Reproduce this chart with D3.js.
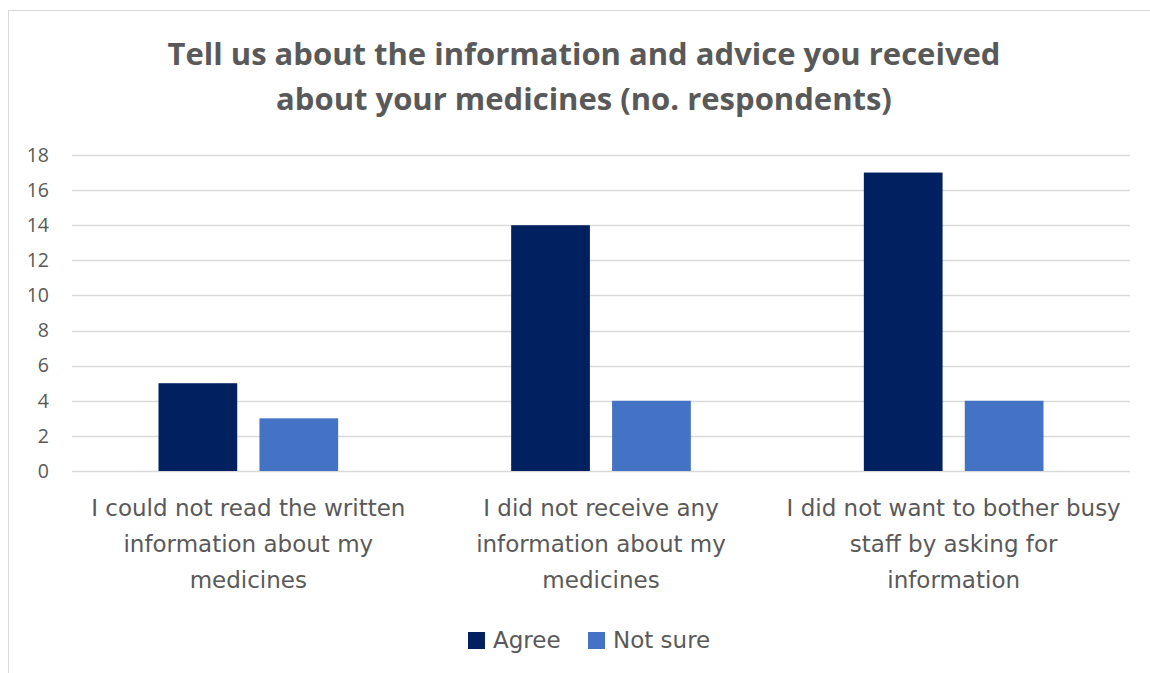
<!DOCTYPE html>
<html>
<head>
<meta charset="utf-8">
<script src="https://cdn.jsdelivr.net/npm/d3@7"></script>
<style>
  html, body { margin: 0; padding: 0; background: #fff; }
  svg { display: block; }
</style>
</head>
<body>
<svg id="chart" width="1150" height="673"></svg>
<script>
// Survey responses per statement
const categories = [
  ["I could not read the written", "information about my", "medicines"],
  ["I did not receive any", "information about my", "medicines"],
  ["I did not want to bother busy", "staff by asking for", "information"]
];
const seriesNames = ["Agree", "Not sure"];
const agreeValues = [5, 14, 17];
const notSureValues = [3, 4, 4];
const yTicks = [0, 2, 4, 6, 8, 10, 12, 14, 16, 18];
const titleLines = [
  "Tell us about the information and advice you received",
  "about your medicines (no. respondents)"
];
const colors = ["#002060", "#4472C4"];

const svg = d3.select("#chart");
const W = 1150, H = 673;
const margin = { left: 72, right: 20, top: 155, bottom: 202 };
const plotW = W - margin.left - margin.right;
const plotH = H - margin.top - margin.bottom;
const labelFont = "'DejaVu Sans', sans-serif";

// Chart frame
svg.append("rect").attr("x", 8.5).attr("y", 10.5)
  .attr("width", W + 10).attr("height", H + 10)
  .attr("fill", "#fff").attr("stroke", "#d9d9d9").attr("stroke-width", 1);

// Title
svg.append("text")
  .attr("text-anchor", "middle")
  .attr("font-family", "'Open Sans', sans-serif")
  .attr("font-weight", 700)
  .attr("font-size", 31)
  .attr("fill", "#595959")
  .selectAll("tspan").data(titleLines).join("tspan")
  .attr("x", 584).attr("y", (d, i) => 65 + i * 45)
  .text(d => d);

const g = svg.append("g").attr("transform", `translate(${margin.left},${margin.top})`);

const keys = categories.map((c, i) => i);
const x0 = d3.scaleBand().domain(keys).range([0, plotW]).paddingInner(0).paddingOuter(0);
const x1 = d3.scaleBand().domain(seriesNames).range([86.5, x0.bandwidth() - 86.5]).paddingInner(0.22).paddingOuter(0);
const y = d3.scaleLinear().domain([0, 18]).range([plotH, 0]);

// Gridlines
g.append("g").selectAll("line").data(yTicks).join("line")
  .attr("x1", 0).attr("x2", plotW)
  .attr("y1", d => Math.round(y(d)) + 0.5).attr("y2", d => Math.round(y(d)) + 0.5)
  .attr("stroke", "#d9d9d9").attr("stroke-width", 1.5);

// Y axis labels
const yAxis = g.append("g")
  .call(d3.axisLeft(y).tickValues(yTicks).tickSize(0).tickPadding(23))
  .attr("font-family", "'Open Sans', sans-serif")
  .attr("font-size", 19.5);
yAxis.select(".domain").remove();
yAxis.selectAll("text").attr("fill", "#595959");

// Bars
const rows = keys.map(i => ({ i, values: [agreeValues[i], notSureValues[i]] }));
const groups = g.selectAll("g.cat").data(rows).join("g")
  .attr("class", "cat")
  .attr("transform", d => `translate(${x0(d.i)},0)`);
groups.selectAll("rect").data(d => d.values.map((v, k) => ({ k, v }))).join("rect")
  .attr("x", d => x1(seriesNames[d.k]))
  .attr("width", x1.bandwidth())
  .attr("y", d => y(d.v))
  .attr("height", d => y(0) - y(d.v))
  .attr("fill", d => colors[d.k]);

// Category labels
const catText = g.append("g").selectAll("text").data(categories).join("text")
  .attr("text-anchor", "middle")
  .attr("font-family", labelFont)
  .attr("font-size", 23)
  .attr("fill", "#595959");
catText.selectAll("tspan").data(d => d).join("tspan")
  .attr("x", function () { const i = categories.indexOf(d3.select(this.parentNode).datum()); return x0(i) + x0.bandwidth() / 2; })
  .attr("y", (d, j) => plotH + 45 + j * 36)
  .text(d => d);

// Legend
const legend = svg.append("g").attr("transform", "translate(468,632)");
const legendX = [0, 120];
const items = legend.selectAll("g").data(seriesNames).join("g")
  .attr("transform", (d, i) => `translate(${legendX[i]},0)`);
items.append("rect").attr("width", 17).attr("height", 17).attr("fill", (d, i) => colors[i]);
items.append("text").attr("x", 25).attr("y", 16)
  .attr("font-family", labelFont)
  .attr("font-size", 23)
  .attr("fill", "#595959")
  .text(d => d);
</script>
</body>
</html>
